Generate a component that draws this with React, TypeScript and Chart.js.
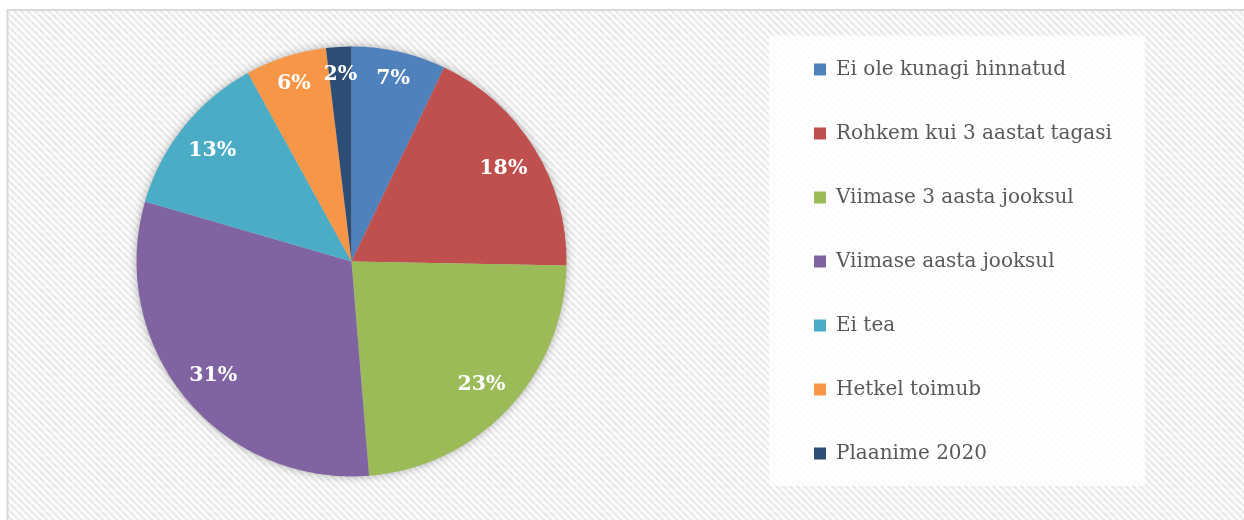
import React, { useEffect, useRef } from "react";
import { Chart, registerables } from "chart.js";

Chart.register(...registerables);

const categories = [
  "Ei ole kunagi hinnatud",
  "Rohkem kui 3 aastat tagasi",
  "Viimase 3 aasta jooksul",
  "Viimase aasta jooksul",
  "Ei tea",
  "Hetkel toimub",
  "Plaanime 2020",
];
const shares = [7.1, 18.2, 23.4, 30.8, 12.5, 6.1, 1.9];
const colors = ["#4F81BD", "#C0504D", "#9BBB59", "#8064A2", "#4BACC6", "#F79646", "#2C4D75"];

const W = 1244;
const H = 520;
const SHIFT = 67; // canvas starts left of the page so the pie centre lands where it should
const CW = W + SHIFT;
const LEGEND_FONT = "'DejaVu Serif'";
const LEGEND_SIZE = 20;
const LEGEND_PAD = 44;
const BOX = 12;
const LEGEND_LEFT = 770 + SHIFT; // legend box left in canvas coordinates

function legendWidth(): number {
  const c = document.createElement("canvas").getContext("2d")!;
  c.font = `${LEGEND_SIZE}px ${LEGEND_FONT}`;
  const tw = Math.max(...categories.map((s) => c.measureText(s).width));
  return LEGEND_PAD + BOX + LEGEND_SIZE / 2 + tw + 10;
}

const backgroundPlugin = {
  id: "bgPattern",
  beforeDraw(chart: any) {
    const ctx = chart.ctx as CanvasRenderingContext2D;
    ctx.save();
    ctx.fillStyle = "#ffffff";
    ctx.fillRect(0, 0, chart.width, chart.height);
    const tile = document.createElement("canvas");
    tile.width = 7;
    tile.height = 7;
    const t = tile.getContext("2d")!;
    t.fillStyle = "#fcfcfc";
    t.fillRect(0, 0, 7, 7);
    t.strokeStyle = "#e9e9e9";
    t.lineWidth = 2.4;
    for (const k of [-7, 0, 7]) {
      t.beginPath();
      t.moveTo(k, 0);
      t.lineTo(k + 7, 7);
      t.stroke();
    }
    const pat = ctx.createPattern(tile, "repeat")!;
    ctx.fillStyle = pat;
    ctx.fillRect(SHIFT + 8, 11, chart.width, chart.height);
    ctx.strokeStyle = "#d9d9d9";
    ctx.lineWidth = 2;
    ctx.strokeRect(SHIFT + 7.5, 10, chart.width + 20, chart.height + 20);
    const lg = chart.legend;
    if (lg) {
      ctx.fillStyle = "rgba(255,255,255,0.82)";
      ctx.fillRect(lg.left - 1, 36, 376, 450);
    }
    ctx.restore();
  },
};

const shadowPlugin = {
  id: "pieShadow",
  beforeDatasetsDraw(chart: any) {
    const meta = chart.getDatasetMeta(0);
    const arc = meta.data[0];
    if (!arc) return;
    const { x, y, outerRadius } = arc.getProps(["x", "y", "outerRadius"], true);
    const ctx = chart.ctx as CanvasRenderingContext2D;
    ctx.save();
    ctx.shadowColor = "rgba(0,0,0,0.3)";
    ctx.shadowBlur = 9;
    ctx.fillStyle = "#cccccc";
    ctx.beginPath();
    ctx.arc(x, y, outerRadius, 0, Math.PI * 2);
    ctx.fill();
    ctx.restore();
  },
};

const labelPlugin = {
  id: "pieLabels",
  afterDatasetsDraw(chart: any) {
    const meta = chart.getDatasetMeta(0);
    const ctx = chart.ctx as CanvasRenderingContext2D;
    const values = chart.data.datasets[0].data as number[];
    const total = values.reduce((a, b) => a + b, 0);
    ctx.save();
    ctx.fillStyle = "#ffffff";
    ctx.font = "bold 20.5px 'DejaVu Serif'";
    ctx.textAlign = "center";
    ctx.textBaseline = "middle";
    meta.data.forEach((arc: any, i: number) => {
      const { x, y, startAngle, endAngle, outerRadius } = arc.getProps(
        ["x", "y", "startAngle", "endAngle", "outerRadius"],
        true
      );
      const mid = (startAngle + endAngle) / 2;
      const r = outerRadius * (values[i] < 10 ? 0.875 : 0.83);
      const px = x + Math.cos(mid) * r;
      const py = y + Math.sin(mid) * r;
      const pct = Math.round((values[i] / total) * 100) + "%";
      ctx.fillText(pct, px, py + 1);
    });
    ctx.restore();
  },
};

export default function App() {
  const ref = useRef<HTMLCanvasElement | null>(null);

  useEffect(() => {
    if (!ref.current) return;
    const lw = legendWidth();
    const padRight = Math.max(CW - LEGEND_LEFT - lw, 0);
    const chart = new Chart(ref.current, {
      type: "pie",
      data: {
        labels: categories,
        datasets: [
          {
            data: shares,
            backgroundColor: colors,
            borderWidth: 0,
            radius: 215,
          } as any,
        ],
      },
      options: {
        responsive: false,
        animation: false,
        layout: { padding: { left: 0, top: 3, right: padRight, bottom: 0 } },
        plugins: {
          tooltip: { enabled: false },
          legend: {
            position: "right",
            align: "center",
            labels: {
              boxWidth: BOX,
              boxHeight: BOX,
              padding: LEGEND_PAD,
              color: "#595959",
              font: { family: LEGEND_FONT, size: LEGEND_SIZE },
            },
          },
        },
      },
      plugins: [backgroundPlugin, shadowPlugin, labelPlugin],
    });
    return () => chart.destroy();
  }, []);

  return (
    <div style={{ position: "fixed", left: -SHIFT, top: 0, width: CW, height: H, overflow: "hidden" }}>
      <canvas ref={ref} width={CW} height={H} style={{ display: "block" }} />
    </div>
  );
}
